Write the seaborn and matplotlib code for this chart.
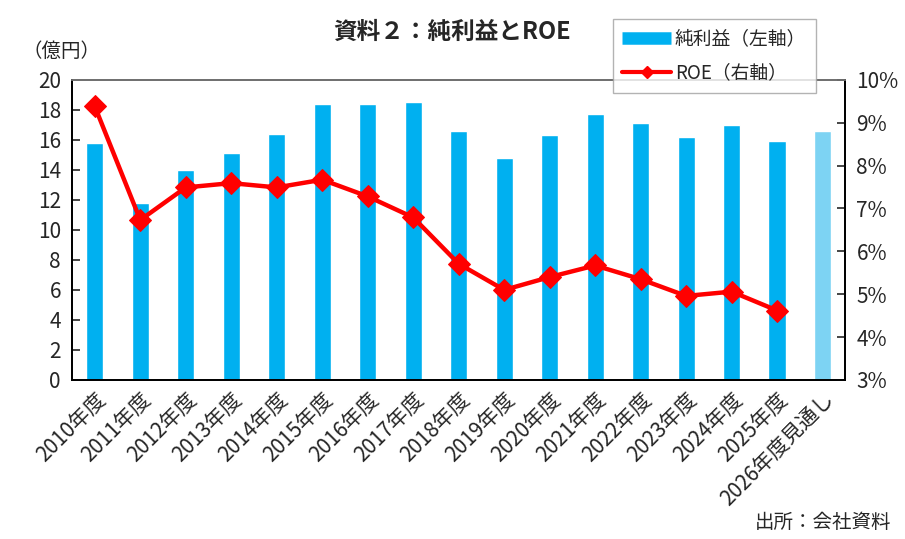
import numpy as np
import pandas as pd
import seaborn as sns
import matplotlib.pyplot as plt
from matplotlib.lines import Line2D

# Data
years = ['2010年度', '2011年度', '2012年度', '2013年度', '2014年度', '2015年度',
         '2016年度', '2017年度', '2018年度', '2019年度', '2020年度', '2021年度',
         '2022年度', '2023年度', '2024年度', '2025年度', '2026年度見通し']
net_income = [15.8, 11.8, 14.0, 15.1, 16.4, 18.4, 18.4, 18.5, 16.6, 14.8,
              16.3, 17.7, 17.1, 16.2, 17.0, 15.9, 16.6]
roe = [9.38, 6.73, 7.49, 7.59, 7.49, 7.67, 7.28, 6.79, 5.71, 5.10, 5.40,
       5.67, 5.35, 4.96, 5.06, 4.62]

bar_blue = '#00B0F0'
bar_light = '#7DD3F3'
line_red = '#FF0000'

sns.set_style('white')
plt.rcParams['font.family'] = ['Noto Sans CJK JP', 'DejaVu Sans']

df = pd.DataFrame({'year': years, 'income': net_income})
colors = [bar_blue] * (len(years) - 1) + [bar_light]

fig = plt.figure(figsize=(9.05, 5.39), dpi=100)
ax = fig.add_axes([0.0796, 0.295, 0.8545, 0.557])

sns.barplot(data=df, x='year', y='income', hue='year', palette=colors,
            legend=False, width=0.38, saturation=1, ax=ax)
ax.set_xlim(-0.5, len(years) - 0.5)
ax.set_ylim(0, 20)
ax.set_yticks(range(0, 21, 2))
ax.set_xlabel('')
ax.set_ylabel('')

# ticks on category boundaries, pointing inward
ax.set_xticks(np.arange(len(years)))
ax.set_xticklabels(years, rotation=45, ha='right', rotation_mode='anchor', fontsize=15)
ax.tick_params(axis='x', which='major', length=0, pad=6)
ax.set_xticks(np.arange(0.5, len(years) - 1, 1), minor=True)
ax.tick_params(axis='x', which='minor', direction='in', length=6, width=1.2, color='black')
ax.tick_params(axis='y', direction='in', length=6, width=1.2, labelsize=15, pad=8, left=True)

ax2 = ax.twinx()
sns.lineplot(x=np.arange(len(roe)), y=roe, color=line_red, linewidth=3.2,
             marker='D', markersize=11, markeredgecolor=line_red, ax=ax2)
ax2.set_ylim(3, 10)
ax2.set_yticks(range(3, 11))
ax2.set_yticklabels([f'{v}%' for v in range(3, 11)])
ax2.tick_params(axis='y', direction='in', length=6, width=1.2, labelsize=15, pad=8, right=True)
ax2.set_xlim(-0.5, len(years) - 0.5)

for a in (ax, ax2):
    for side in ['left', 'right', 'bottom']:
        a.spines[side].set_color('black')
        a.spines[side].set_linewidth(1.3)
    a.spines['top'].set_color('#707070')
    a.spines['top'].set_linewidth(1.3)

fig.text(0.50, 0.94, '資料２：純利益とROE', ha='center', va='center',
         fontsize=17, fontweight='bold')
fig.text(0.025, 0.905, '（億円）', ha='left', va='center', fontsize=14)
fig.text(0.985, 0.03, '出所：会社資料', ha='right', va='center', fontsize=14)

handles = [
    Line2D([0], [0], color=bar_blue, linewidth=9, solid_capstyle='butt'),
    Line2D([0], [0], color=line_red, linewidth=3, marker='D', markersize=6),
]
leg = fig.legend(handles, ['純利益（左軸）', 'ROE（右軸）'],
                 loc='upper left', bbox_to_anchor=(0.667, 0.982),
                 fontsize=13.5, frameon=True, fancybox=False, edgecolor='#A0A0A0',
                 handlelength=2.6, handletextpad=0.2, labelspacing=0.7,
                 borderpad=0.5)
leg.get_frame().set_linewidth(1.0)
leg.set_zorder(10)

fig.savefig('out.png', dpi=100)
